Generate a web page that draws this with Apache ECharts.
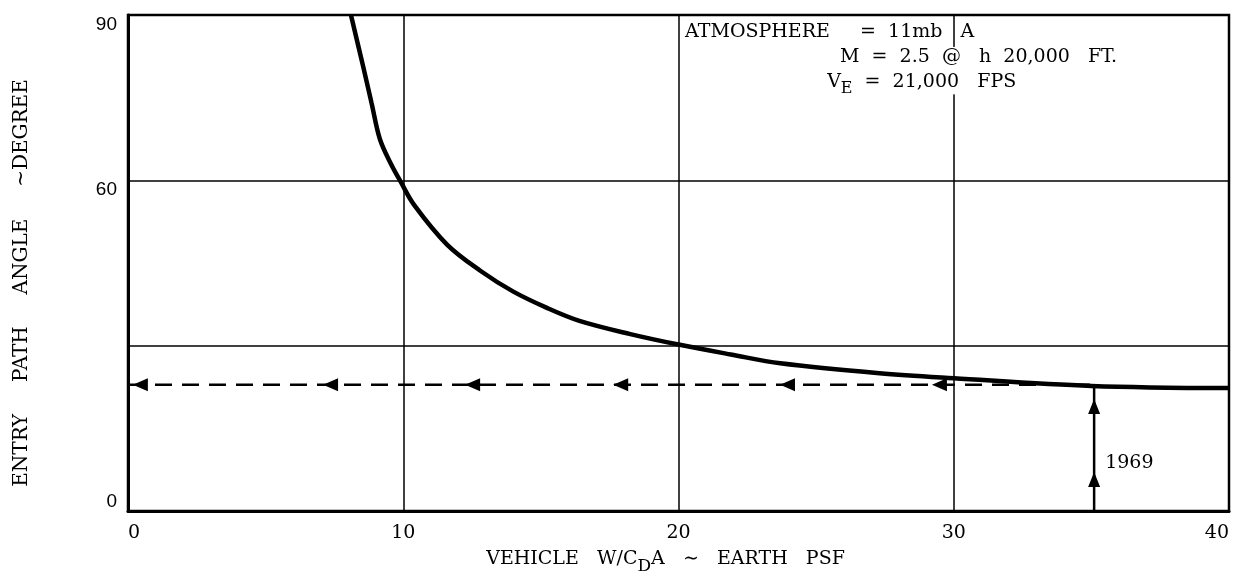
<!DOCTYPE html>
<html>
<head>
<meta charset="utf-8">
<script src="https://cdn.jsdelivr.net/npm/echarts@6/dist/echarts.min.js"></script>
<style>
html,body{margin:0;padding:0;background:#fff;}
#chart{width:1246px;height:580px;}
</style>
</head>
<body>
<div id="chart"></div>
<script>
// ---- data ----
var curveX = [8.1, 8.55, 8.85, 9.15, 9.55, 9.9, 10.4, 11.6, 12.8, 14.0, 15.2, 16.4, 18.25, 20.0, 21.9, 23.7, 27.3, 30.0, 35.0, 40.0];
var curveY = [90, 80.5, 74.0, 67.5, 63.0, 59.8, 55.5, 48.3, 43.6, 39.8, 36.9, 34.5, 32.1, 30.2, 28.4, 26.8, 25.0, 24.1, 22.7, 22.3];
var dashedX = [0, 35.1];
var dashedY = 22.9;
var leftArrowX = [0.45, 7.36, 12.52, 17.9, 23.96, 29.48];
var upArrowX = 35.1;
var upArrowY = [5.7, 18.95];
var verticalX = [35.1, 35.1];
var verticalY = [0, 22.8];
var yearLabel = '1969';
var yearLabelPos = [35.5, 8.7];
var xTicks = [0, 10, 20, 30, 40];
var yTicks = [0, 30, 60, 90];
var yTickLabels = {0: '0', 30: '', 60: '60', 90: '90'};
var notes = [
  {text: 'ATMOSPHERE     =  11mb   A', pos: [20.24, 86.9]},
  {text: 'M  =  2.5  @   h  20,000   FT.', pos: [25.87, 82.3]},
  {text: '{n|V}{s|E}{n|  =  21,000   FPS}', pos: [25.4, 77.8]}
];

var chart = echarts.init(document.getElementById('chart'));
var serif = 'DejaVu Serif';

var curveData = curveX.map(function (x, i) { return [x, curveY[i]]; });

chart.setOption({
  animation: false,
  backgroundColor: '#fff',
  grid: {left: 128, right: 17, top: 15, bottom: 64, show: true, borderColor: '#000', borderWidth: 2.5, backgroundColor: 'transparent'},
  xAxis: {
    type: 'value', min: 0, max: 40, interval: 10,
    name: 'VEHICLE   W/C{sub|D}A   ∼   EARTH   PSF',
    nameLocation: 'middle', nameGap: 33,
    nameTextStyle: {fontFamily: serif, fontSize: 19, color: '#000', padding: [0, 26, 0, 0],
      rich: {sub: {fontFamily: serif, fontSize: 17, color: '#000', verticalAlign: 'top', padding: [14, 0, 0, 0]}}},
    axisLine: {show: true, lineStyle: {color: '#000', width: 3}},
    axisTick: {show: false},
    axisLabel: {fontFamily: serif, fontSize: 19, color: '#000', margin: 13, alignMinLabel: 'left', alignMaxLabel: 'right'},
    splitLine: {show: true, lineStyle: {color: '#000', width: 1.5}}
  },
  yAxis: {
    type: 'value', min: 0, max: 90, interval: 30,
    name: 'ENTRY     PATH     ANGLE     ~DEGREE',
    nameLocation: 'middle', nameGap: 96, nameRotate: 90,
    nameTextStyle: {fontFamily: serif, fontSize: 20, color: '#000', padding: [0, 40, 0, 0]},
    axisLine: {show: true, lineStyle: {color: '#000', width: 3}},
    axisTick: {show: false},
    axisLabel: {fontFamily: 'Liberation Sans', fontSize: 19, color: '#000', margin: 11,
      verticalAlign: 'top', verticalAlignMinLabel: 'bottom',
      formatter: function (v) { return yTickLabels[v] !== undefined ? yTickLabels[v] : ''; }},
    splitLine: {show: true, lineStyle: {color: '#000', width: 1.5}}
  },
  series: [
    {
      type: 'line', data: curveData, smooth: 0.35, showSymbol: false, z: 5,
      lineStyle: {color: '#000', width: 4.5}
    },
    {
      type: 'line', data: dashedX.map(function (x) { return [x, dashedY]; }), showSymbol: false, z: 4,
      lineStyle: {color: '#000', width: 2.5, type: [17, 10]}
    },
    {
      type: 'line', data: verticalX.map(function (x, i) { return [x, verticalY[i]]; }), showSymbol: false, z: 4,
      lineStyle: {color: '#000', width: 2.5}
    },
    {
      type: 'scatter', data: leftArrowX.map(function (x) { return [x, dashedY]; }),
      symbol: 'triangle', symbolSize: [13, 15], symbolRotate: 90, z: 6,
      itemStyle: {color: '#000', opacity: 1}
    },
    {
      type: 'scatter', data: upArrowY.map(function (y) { return [upArrowX, y]; }),
      symbol: 'triangle', symbolSize: [12, 15], z: 6,
      itemStyle: {color: '#000', opacity: 1}
    },
    {
      type: 'scatter', data: [yearLabelPos], symbolSize: 0, z: 6,
      itemStyle: {opacity: 1},
      label: {show: true, position: 'right', distance: 0, formatter: yearLabel, fontFamily: serif, fontSize: 19, color: '#000', opacity: 1}
    }
  ]
});

// annotations placed through the chart's coordinate system
var gx30Top = chart.convertToPixel({gridIndex: 0}, [30, 84.2]);
var gx30Bot = chart.convertToPixel({gridIndex: 0}, [30, 75.6]);
var graphics = [{
  type: 'rect', z: 50,
  shape: {x: gx30Top[0] - 3, y: gx30Top[1], width: 6, height: gx30Bot[1] - gx30Top[1]},
  style: {fill: '#fff'}
}];
notes.forEach(function (n) {
  var p = chart.convertToPixel({gridIndex: 0}, n.pos);
  graphics.push({
    type: 'text', z: 60, x: p[0], y: p[1],
    style: {
      text: n.text, fill: '#000', font: '19px "DejaVu Serif"', verticalAlign: 'middle',
      rich: {n: {fontFamily: serif, fontSize: 19, fill: '#000'}, s: {fontFamily: serif, fontSize: 16, fill: '#000', padding: [14, 0, 0, 0]}}
    }
  });
});
chart.setOption({graphic: graphics});
</script>
</body>
</html>
